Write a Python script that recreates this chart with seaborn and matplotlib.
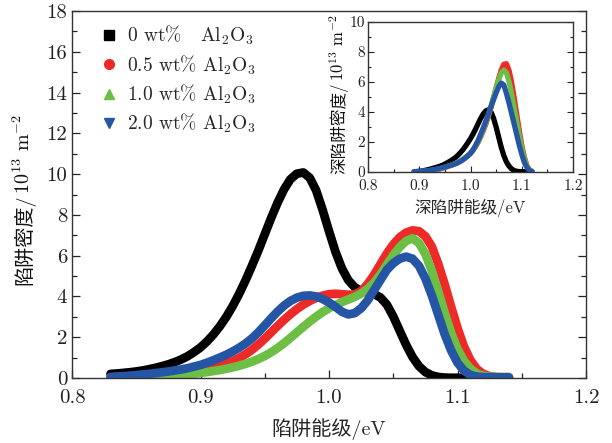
import numpy as np
import pandas as pd
import matplotlib
matplotlib.use("Agg")
import matplotlib.pyplot as plt
import seaborn as sns
from matplotlib.ticker import MultipleLocator, FormatStrFormatter
from matplotlib.lines import Line2D

# ---------------- data ----------------
series_names = ["0 wt%", "0.5 wt%", "1.0 wt%", "2.0 wt%"]
legend_labels = [r"0 wt%   Al$_2$O$_3$", r"0.5 wt% Al$_2$O$_3$",
                 r"1.0 wt% Al$_2$O$_3$", r"2.0 wt% Al$_2$O$_3$"]
colors = ["#000000", "#ED2A27", "#6DBE45", "#2456A5"]
markers = ["s", "o", "^", "v"]

energy_main = [0.830, 0.835, 0.840, 0.845, 0.850, 0.855, 0.860, 0.865, 0.870, 0.875,
               0.880, 0.885, 0.890, 0.895, 0.900, 0.905, 0.910, 0.915, 0.920, 0.925,
               0.930, 0.935, 0.940, 0.945, 0.950, 0.955, 0.960, 0.965, 0.970, 0.975,
               0.980, 0.985, 0.990, 0.995, 1.000, 1.005, 1.010, 1.015, 1.020, 1.025,
               1.030, 1.035, 1.040, 1.045, 1.050, 1.055, 1.060, 1.065, 1.070, 1.075,
               1.080, 1.085, 1.090, 1.095, 1.100, 1.105, 1.110, 1.115, 1.120, 1.125,
               1.130, 1.135, 1.140]

dens_0 = [0.20, 0.22, 0.25, 0.28, 0.32, 0.37, 0.43, 0.50, 0.58, 0.67,
          0.78, 0.91, 1.07, 1.27, 1.50, 1.79, 2.13, 2.53, 2.99, 3.52,
          4.12, 4.78, 5.50, 6.25, 7.05, 7.85, 8.60, 9.25, 9.75, 10.02,
          10.08, 9.82, 9.20, 8.25, 7.20, 6.20, 5.38, 4.80, 4.45, 4.27,
          4.20, 4.12, 3.95, 3.60, 3.02, 2.32, 1.63, 1.03, 0.58, 0.29,
          0.13, 0.05, 0.02, 0.01, 0.01, 0.01, 0.01, 0.01, 0.01, 0.01,
          0.01, 0.01, 0.01]

dens_05 = [0.03, 0.04, 0.05, 0.06, 0.08, 0.10, 0.12, 0.14, 0.17, 0.20,
           0.23, 0.27, 0.31, 0.35, 0.40, 0.46, 0.53, 0.61, 0.71, 0.83,
           0.98, 1.16, 1.38, 1.64, 1.93, 2.24, 2.55, 2.85, 3.13, 3.38,
           3.60, 3.78, 3.93, 4.04, 4.11, 4.13, 4.11, 4.08, 4.10, 4.25,
           4.60, 5.05, 5.58, 6.10, 6.55, 6.90, 7.13, 7.24, 7.20, 6.95,
           6.45, 5.60, 4.60, 3.50, 2.45, 1.55, 0.88, 0.44, 0.20, 0.09,
           0.05, 0.04, 0.04]

dens_10 = [0.02, 0.025, 0.03, 0.04, 0.05, 0.06, 0.07, 0.08, 0.09, 0.11,
           0.13, 0.15, 0.17, 0.21, 0.25, 0.29, 0.34, 0.39, 0.45, 0.52,
           0.60, 0.69, 0.80, 0.93, 1.08, 1.26, 1.47, 1.71, 1.97, 2.24,
           2.51, 2.77, 3.01, 3.23, 3.42, 3.58, 3.72, 3.85, 3.98, 4.14,
           4.36, 4.67, 5.07, 5.55, 6.02, 6.42, 6.72, 6.85, 6.62, 6.08,
           5.25, 4.25, 3.20, 2.22, 1.42, 0.84, 0.45, 0.22, 0.10, 0.06,
           0.04, 0.04, 0.04]

dens_20 = [0.05, 0.07, 0.09, 0.11, 0.14, 0.17, 0.20, 0.24, 0.28, 0.32,
           0.37, 0.42, 0.48, 0.56, 0.64, 0.75, 0.87, 1.00, 1.14, 1.30,
           1.48, 1.69, 1.94, 2.24, 2.58, 2.93, 3.26, 3.55, 3.78, 3.94,
           4.03, 4.05, 4.00, 3.88, 3.70, 3.49, 3.25, 3.12, 3.18, 3.42,
           3.80, 4.30, 4.80, 5.30, 5.63, 5.85, 5.95, 5.85, 5.50, 4.88,
           4.05, 3.10, 2.15, 1.35, 0.75, 0.36, 0.15, 0.07, 0.04, 0.03,
           0.03, 0.03, 0.03]

energy_deep = [0.890, 0.895, 0.900, 0.905, 0.910, 0.915, 0.920, 0.925, 0.930, 0.935,
               0.940, 0.945, 0.950, 0.955, 0.960, 0.965, 0.970, 0.975, 0.980, 0.985,
               0.990, 0.995, 1.000, 1.005, 1.010, 1.015, 1.020, 1.025, 1.030, 1.035,
               1.040, 1.045, 1.050, 1.055, 1.060, 1.065, 1.070, 1.075, 1.080, 1.085,
               1.090, 1.095, 1.100, 1.105, 1.110, 1.115, 1.120]

deep_0 = [0.02, 0.03, 0.05, 0.07, 0.10, 0.14, 0.18, 0.23, 0.28, 0.33,
          0.38, 0.45, 0.53, 0.62, 0.72, 0.83, 0.95, 1.10, 1.28, 1.48,
          1.71, 1.96, 2.23, 2.53, 2.87, 3.23, 3.58, 3.88, 4.08, 4.15,
          4.00, 3.58, 3.00, 2.32, 1.65, 1.10, 0.68, 0.40, 0.21, 0.10,
          0.05, 0.03, 0.02, 0.02, 0.02, 0.02, 0.02]

deep_05 = [0.01, 0.02, 0.03, 0.04, 0.05, 0.06, 0.08, 0.10, 0.13, 0.16,
           0.20, 0.25, 0.30, 0.36, 0.42, 0.48, 0.55, 0.63, 0.72, 0.83,
           0.95, 1.10, 1.25, 1.45, 1.70, 2.00, 2.35, 2.75, 3.20, 3.70,
           4.30, 4.95, 5.60, 6.25, 6.80, 7.18, 7.22, 6.80, 6.02, 5.00,
           3.90, 2.80, 1.80, 1.00, 0.45, 0.15, 0.04]

deep_10 = [0.01, 0.02, 0.03, 0.04, 0.05, 0.07, 0.09, 0.11, 0.14, 0.17,
           0.21, 0.26, 0.31, 0.37, 0.43, 0.49, 0.56, 0.64, 0.73, 0.84,
           0.96, 1.11, 1.26, 1.47, 1.72, 2.03, 2.40, 2.82, 3.28, 3.80,
           4.40, 5.00, 5.60, 6.15, 6.60, 6.80, 6.62, 6.05, 5.25, 4.35,
           3.40, 2.45, 1.60, 0.90, 0.40, 0.13, 0.04]

deep_20 = [0.02, 0.03, 0.04, 0.05, 0.07, 0.09, 0.11, 0.14, 0.17, 0.21,
           0.25, 0.29, 0.33, 0.38, 0.43, 0.48, 0.54, 0.61, 0.70, 0.81,
           0.94, 1.08, 1.24, 1.48, 1.78, 2.13, 2.53, 2.95, 3.40, 3.88,
           4.36, 4.82, 5.28, 5.68, 5.93, 5.80, 5.25, 4.62, 3.92, 3.22,
           2.52, 1.80, 1.18, 0.65, 0.30, 0.10, 0.03]

main_df = pd.concat([
    pd.DataFrame({"E": energy_main, "N": d, "s": n})
    for d, n in zip([dens_0, dens_05, dens_10, dens_20], series_names)
], ignore_index=True)
deep_df = pd.concat([
    pd.DataFrame({"E": energy_deep, "N": d, "s": n})
    for d, n in zip([deep_0, deep_05, deep_10, deep_20], series_names)
], ignore_index=True)

# ---------------- style ----------------
sns.set_style("ticks")
plt.rcParams["font.family"] = ["cmr10", "Noto Sans CJK SC"]
plt.rcParams["mathtext.fontset"] = "cm"
plt.rcParams["axes.unicode_minus"] = False
plt.rcParams["axes.formatter.use_mathtext"] = True
plt.rcParams["axes.linewidth"] = 1.0
plt.rcParams["axes.edgecolor"] = "#333333"

palette = dict(zip(series_names, colors))
W, H = 612, 443

fig = plt.figure(figsize=(W / 100, H / 100), dpi=100)
ax = fig.add_axes([72 / W, 1 - 378 / H, 514 / W, 367 / H])

sns.lineplot(data=main_df, x="E", y="N", hue="s", hue_order=series_names,
             palette=palette, linewidth=6.3, sort=False, legend=False,
             estimator=None, ax=ax, solid_capstyle="round",
             solid_joinstyle="round")

ax.set_xlim(0.8, 1.2)
ax.set_ylim(0, 18)
ax.xaxis.set_major_locator(MultipleLocator(0.1))
ax.xaxis.set_minor_locator(MultipleLocator(0.05))
ax.yaxis.set_major_locator(MultipleLocator(2))
ax.yaxis.set_minor_locator(MultipleLocator(1))
ax.xaxis.set_major_formatter(FormatStrFormatter("%.1f"))
ax.yaxis.set_major_formatter(FormatStrFormatter("%d"))
ax.tick_params(which="both", direction="in", right=True, top=False,
               labelsize=15, width=0.9, colors="#222222")
ax.tick_params(which="major", length=6)
ax.tick_params(which="minor", length=3.5)
ax.tick_params(axis="x", which="major", pad=8)
ax.set_xlabel("陷阱能级/eV", fontsize=14.5, labelpad=8)
ax.set_ylabel("")

handles = [Line2D([], [], linestyle="none", marker=m, color=c, markersize=7)
           for m, c in zip(markers, colors)]
ax.legend(handles, legend_labels, loc="upper left", bbox_to_anchor=(0.022, 1.012),
          frameon=False, fontsize=14, handlelength=0.8, handletextpad=0.55,
          labelspacing=0.3)

# ---------------- inset ----------------
ins = fig.add_axes([368 / W, 1 - 172 / H, 205 / W, 150 / H])
sns.lineplot(data=deep_df, x="E", y="N", hue="s", hue_order=series_names,
             palette=palette, linewidth=3.8, sort=False, legend=False,
             estimator=None, ax=ins, solid_capstyle="round",
             solid_joinstyle="round")
ins.set_xlim(0.8, 1.2)
ins.set_ylim(0, 10)
ins.xaxis.set_major_locator(MultipleLocator(0.1))
ins.xaxis.set_minor_locator(MultipleLocator(0.05))
ins.yaxis.set_major_locator(MultipleLocator(2))
ins.yaxis.set_minor_locator(MultipleLocator(1))
ins.xaxis.set_major_formatter(FormatStrFormatter("%.1f"))
ins.yaxis.set_major_formatter(FormatStrFormatter("%d"))
ins.tick_params(which="both", direction="in", right=True, top=False,
                labelsize=11, width=0.8, colors="#222222", pad=2)
ins.tick_params(which="major", length=4)
ins.tick_params(which="minor", length=2.5)
ins.tick_params(axis="x", which="major", pad=5.5)
ins.set_xlabel("深陷阱能级/eV", fontsize=12, labelpad=4)
ins.set_ylabel("")


# ---------------- rotated y labels (CJK part + math part) ----------------
def rotated_label(part1, part2, x_px, size, center_px=None, bottom_px=None):
    t1 = fig.text(x_px / W, 0.5, part1, rotation=90, rotation_mode="anchor",
                  ha="left", va="baseline", fontsize=size, color="#111111")
    t2 = fig.text(x_px / W, 0.5, part2, rotation=90, rotation_mode="anchor",
                  ha="left", va="baseline", fontsize=size, color="#111111")
    fig.canvas.draw()
    r = fig.canvas.get_renderer()
    h1 = t1.get_window_extent(r).height
    h2 = t2.get_window_extent(r).height
    if bottom_px is None:
        bottom_px = center_px + (h1 + h2) / 2
    y1 = 1 - bottom_px / H
    t1.set_position((x_px / W, y1))
    t2.set_position((x_px / W, y1 + (h1 + 1) / H))


rotated_label("陷阱密度/", r"10$^{13}$ m$^{-2}$", 30, 14.5, center_px=200)
rotated_label("深陷阱密度/", r"10$^{13}$ m$^{-2}$", 344, 12, bottom_px=174)

fig.savefig("out.png", dpi=100)
